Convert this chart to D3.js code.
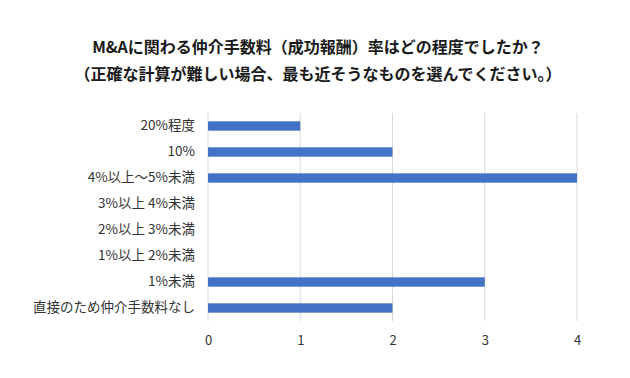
<!DOCTYPE html>
<html>
<head>
<meta charset="utf-8">
<script src="https://cdn.jsdelivr.net/npm/d3@7"></script>
<style>
  body { margin: 0; background: #fff; }
  svg text { font-family: "Noto Sans CJK JP", "Noto Sans", sans-serif; }
</style>
</head>
<body>
<svg id="chart" width="630" height="378"></svg>
<script>
// chart data
const titleLines = [
    "M&Aに関わる仲介手数料（成功報酬）率はどの程度でしたか？",
    "（正確な計算が難しい場合、最も近そうなものを選んでください。）"
];
const categories = [
    "20%程度",
    "10%",
    "4%以上～5%未満",
    "3%以上 4%未満",
    "2%以上 3%未満",
    "1%以上 2%未満",
    "1%未満",
    "直接のため仲介手数料なし"
];
const counts = [1, 2, 4, 0, 0, 0, 3, 2];
const xTicks = [0, 1, 2, 3, 4];

const svg = d3.select("#chart");

const plotLeft = 208, plotRight = 577, plotTop = 113, plotBottom = 321;

const x = d3.scaleLinear()
    .domain([0, 4])
    .range([plotLeft, plotRight]);

const y = d3.scaleBand()
    .domain(categories)
    .range([plotTop, plotBottom])
    .paddingInner(0.64)
    .paddingOuter(0.32);

// title
svg.append("g")
    .selectAll("text")
    .data(titleLines)
    .join("text")
    .attr("x", 318)
    .attr("y", (d, i) => 53 + i * 27)
    .attr("text-anchor", "middle")
    .attr("font-size", 16)
    .attr("font-weight", "bold")
    .attr("fill", "#1a1a1a")
    .text(d => d);

// gridlines
svg.append("g")
    .selectAll("line")
    .data(xTicks)
    .join("line")
    .attr("x1", d => x(d))
    .attr("x2", d => x(d))
    .attr("y1", plotTop)
    .attr("y2", plotBottom)
    .attr("stroke", "#d9d9d9")
    .attr("stroke-width", 1);

// bars
svg.append("g")
    .selectAll("rect")
    .data(categories)
    .join("rect")
    .attr("x", x(0))
    .attr("y", d => y(d))
    .attr("width", (d, i) => x(counts[i]) - x(0))
    .attr("height", y.bandwidth())
    .attr("fill", "#4472c4");

// x axis
const xAxis = g => g
    .attr("transform", "translate(0," + (plotBottom + 4) + ")")
    .call(d3.axisBottom(x).tickValues(xTicks).tickFormat(d3.format("d")).tickSize(0).tickPadding(11))
    .call(g => g.select(".domain").remove());

svg.append("g").call(xAxis)
    .selectAll("text")
    .attr("font-size", 13)
    .attr("fill", "#333");

// y axis labels
const yAxis = g => g
    .attr("transform", "translate(" + (plotLeft - 13) + ",0)")
    .call(d3.axisLeft(y).tickSize(0).tickPadding(0))
    .call(g => g.select(".domain").remove());

svg.append("g").call(yAxis)
    .selectAll("text")
    .attr("font-size", 13.5)
    .attr("fill", "#333");
</script>
</body>
</html>
